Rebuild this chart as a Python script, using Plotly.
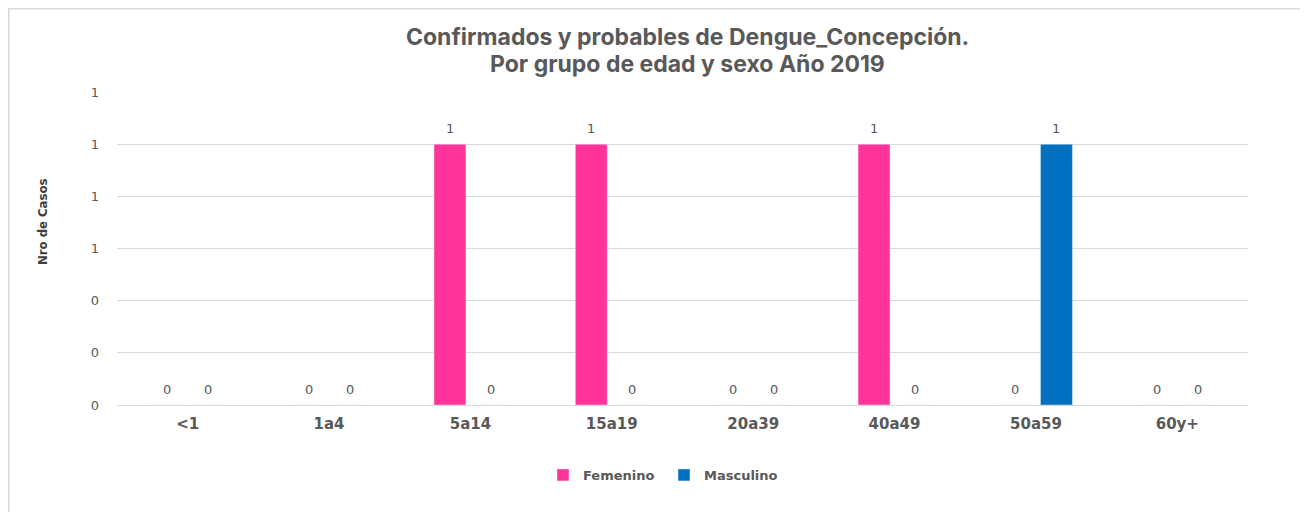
import plotly.graph_objects as go

categories = ["<1", "1a4", "5a14", "15a19", "20a39", "40a49", "50a59", "60y+"]
femenino = [0, 0, 1, 1, 0, 1, 0, 0]
masculino = [0, 0, 0, 0, 0, 0, 1, 0]
y_ticks = [0, 0.2, 0.4, 0.6, 0.8, 1.0, 1.2]
title_lines = ["Confirmados y probables de Dengue_Concepción.", "Por grupo de edad y sexo Año 2019"]

# page offset (browser body margin)
OFF = 8
W, H = 1300, 504
# plot area in page pixels: x 117..1248, y 92..405
ml, mt = 117 - OFF, 92 - OFF
mr, mb = W - (1248 - OFF), H - (405 - OFF)
pw, ph = W - ml - mr, H - mt - mb


def px_x(p):  # page pixel -> paper x
    return (p - OFF - ml) / pw


def px_y(p):  # page pixel -> paper y
    return (H - mb - (p - OFF)) / ph


fig = go.Figure()
fig.add_trace(go.Bar(name="Femenino", x=categories, y=femenino, marker_color="#FF3399"))
fig.add_trace(go.Bar(name="Masculino", x=categories, y=masculino, marker_color="#0070C0"))

annotations = []
# data labels
lab_font = dict(family="DejaVu Sans", size=13, color="#595959")
for vals, dx in ((femenino, -20.5), (masculino, 20.5)):
    for c, v in zip(categories, vals):
        annotations.append(dict(x=c, y=v, xref="x", yref="y", text=str(v), showarrow=False,
                                xshift=dx, yshift=16, yanchor="middle", font=lab_font))
# title
for line, py in zip(title_lines, (36.5, 64.5)):
    annotations.append(dict(text="<b>" + line + "</b>", xref="paper", yref="paper",
                            x=px_x(687.5), y=px_y(py), xanchor="center", yanchor="middle",
                            showarrow=False,
                            font=dict(family="Inter", size=23, color="#595959")))
# y axis title
annotations.append(dict(text="Nro de Casos", textangle=-90, xref="paper", yref="paper",
                        x=px_x(42), y=px_y(221), xanchor="center", yanchor="middle", showarrow=False,
                        font=dict(family="DejaVu Sans Condensed", size=13, color="#404040", weight="bold")))

fig.update_layout(
    width=W, height=H,
    margin=dict(l=ml, r=mr, t=mt, b=mb),
    paper_bgcolor="white", plot_bgcolor="white",
    barmode="group", bargap=0.42, bargroupgap=0.22,
    xaxis=dict(tickfont=dict(family="DejaVu Sans", size=15, color="#595959", weight="bold"),
               showgrid=False, showline=False, ticks="", ticklabelstandoff=8),
    yaxis=dict(range=[0, 1.2], tickvals=y_ticks, tickformat=".0f",
               tickfont=dict(family="DejaVu Sans", size=13, color="#595959"),
               showgrid=True, gridcolor="#D9D9D9", gridwidth=1,
               zeroline=True, zerolinecolor="#D9D9D9", zerolinewidth=1,
               showline=False, ticks="", ticklabelstandoff=17),
    legend=dict(orientation="h", x=px_x(543), xanchor="left", y=px_y(460), yanchor="top",
                font=dict(family="DejaVu Sans", size=13, color="#595959", weight="bold"),
                itemwidth=30, entrywidth=76, entrywidthmode="pixels", traceorder="normal"),
    annotations=annotations,
    shapes=[dict(type="rect", xref="paper", yref="paper",
                 x0=px_x(8.8), x1=px_x(1303.5), y0=px_y(8.8), y1=px_y(530),
                 line=dict(color="#D9D9D9", width=1.5), fillcolor="rgba(0,0,0,0)", layer="below")],
    showlegend=True,
)

fig.write_html("out.html")
